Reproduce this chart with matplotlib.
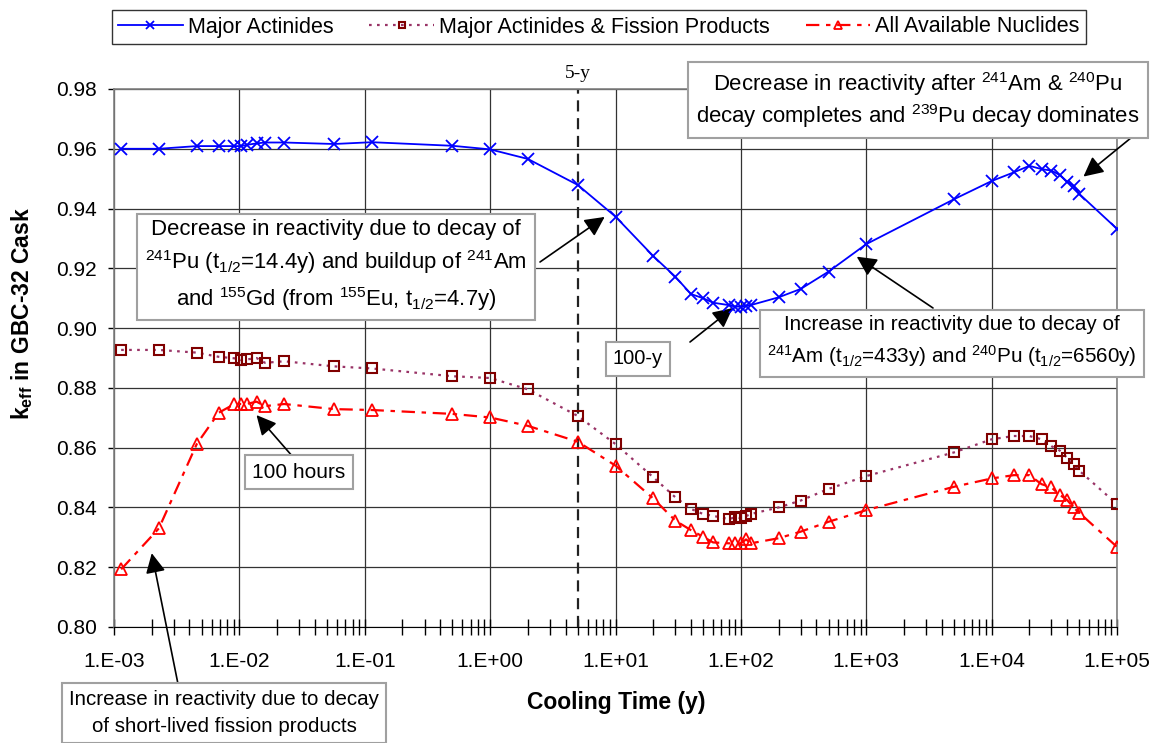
import numpy as np
import matplotlib
matplotlib.use('Agg')
import matplotlib.pyplot as plt
from matplotlib.ticker import FuncFormatter, LogLocator, NullFormatter, MultipleLocator, FixedLocator

plt.rcParams['font.family'] = ['Liberation Sans', 'DejaVu Sans']
plt.rcParams['mathtext.fontset'] = 'custom'
plt.rcParams['mathtext.rm'] = 'Liberation Sans'
plt.rcParams['mathtext.it'] = 'Liberation Sans'
plt.rcParams['mathtext.bf'] = 'Liberation Sans:bold'

# cooling times (years)
time_y = [1.14e-3, 2.28e-3, 4.57e-3, 6.85e-3, 9.13e-3, 1.03e-2, 1.14e-2, 1.37e-2, 1.6e-2, 2.28e-2,
          5.7e-2, 0.114, 0.5, 1, 2, 5, 10, 20, 30, 40, 50, 60, 80, 90, 100, 110, 120, 200, 300, 500,
          1000, 5000, 1e4, 1.5e4, 2e4, 2.5e4, 3e4, 3.5e4, 4e4, 4.5e4, 5e4, 1e5]

k_actinides = [0.9600, 0.9600, 0.9609, 0.9609, 0.9609, 0.9609, 0.9613, 0.9618, 0.9621, 0.9621,
               0.9616, 0.9622, 0.9610, 0.9598, 0.9566, 0.9479, 0.9373, 0.9241, 0.9172, 0.9114,
               0.9100, 0.9085, 0.9077, 0.9072, 0.9072, 0.9075, 0.9077, 0.9103, 0.9131, 0.9189,
               0.9281, 0.9431, 0.9492, 0.9521, 0.9543, 0.9532, 0.9527, 0.9512, 0.9490, 0.9476,
               0.9449, 0.9332]

k_act_fp = [0.8927, 0.8927, 0.8918, 0.8904, 0.8899, 0.8893, 0.8895, 0.8900, 0.8884, 0.8889,
            0.8872, 0.8865, 0.8839, 0.8833, 0.8795, 0.8706, 0.8612, 0.8501, 0.8434, 0.8395,
            0.8378, 0.8372, 0.8361, 0.8367, 0.8364, 0.8371, 0.8378, 0.8400, 0.8423, 0.8462,
            0.8505, 0.8584, 0.8628, 0.8639, 0.8639, 0.8628, 0.8605, 0.8590, 0.8566, 0.8545,
            0.8523, 0.8411]

k_all = [0.8193, 0.8330, 0.8612, 0.8717, 0.8746, 0.8746, 0.8746, 0.8754, 0.8739, 0.8746,
         0.8729, 0.8726, 0.8713, 0.8701, 0.8673, 0.8620, 0.8540, 0.8430, 0.8356, 0.8324,
         0.8302, 0.8283, 0.8280, 0.8280, 0.8280, 0.8293, 0.8280, 0.8297, 0.8319, 0.8352,
         0.8391, 0.8469, 0.8497, 0.8508, 0.8508, 0.8478, 0.8467, 0.8442, 0.8425, 0.8400,
         0.8382, 0.8268]

labels = ['Major Actinides', 'Major Actinides & Fission Products', 'All Available Nuclides']
x_ticks = [1e-3, 1e-2, 1e-1, 1e0, 1e1, 1e2, 1e3, 1e4, 1e5]

W, H = 1157, 743


def fpx(x, y):
    # pixel position (from top-left) -> figure fraction
    return (x / W, 1 - y / H)


fig = plt.figure(figsize=(W / 100, H / 100), dpi=100)
ax = fig.add_axes([114 / W, 1 - 627 / H, (1117 - 114) / W, (627 - 89) / H])

ax.plot(time_y, k_actinides, color='#0000ff', lw=1.3, marker='x', ms=8.5, mew=1.3,
        label=labels[0], zorder=4)
ax.plot(time_y, k_act_fp, color='#993366', lw=1.6, ls=(0, (1.2, 2.4)), marker='s', ms=7,
        mfc='none', mec='#800000', mew=1.5, label=labels[1], zorder=3)
ax.plot(time_y, k_all, color='#ff0000', lw=1.6, ls=(0, (6, 3, 2, 3)), marker='^', ms=9,
        mfc='none', mec='#ff0000', mew=1.3, label=labels[2], zorder=3)

ax.set_xscale('log')
ax.set_xlim(x_ticks[0], x_ticks[-1])
ax.set_ylim(0.80, 0.98)
ax.yaxis.set_major_locator(MultipleLocator(0.02))
ax.yaxis.set_major_formatter(FuncFormatter(lambda v, p: f'{v:.2f}'))
ax.xaxis.set_major_locator(FixedLocator(x_ticks))
ax.xaxis.set_minor_locator(LogLocator(base=10, subs=np.arange(2, 10), numticks=100))
ax.xaxis.set_minor_formatter(NullFormatter())
ax.xaxis.set_major_formatter(FuncFormatter(lambda v, p: f'1.E{int(round(np.log10(v))):+03d}'))

ax.grid(True, which='major', color='#333333', lw=0.9)
ax.set_axisbelow(True)
ax.tick_params(axis='x', which='both', direction='inout', length=12, width=1, labelsize=15, pad=12)
ax.tick_params(axis='y', direction='out', length=4.5, width=1, labelsize=15, pad=8)
for s in ['left', 'right', 'top']:
    ax.spines[s].set_color('#808080')
    ax.spines[s].set_linewidth(1.2)
ax.spines['bottom'].set_color('black')

# 5-year marker
ax.axvline(5, color='#222222', ls=(0, (5, 3)), lw=1.6, zorder=2)
fig.text(*fpx(578, 74), '5-y', family='Liberation Serif', fontsize=14, ha='center', va='center')

fig.text(*fpx(616, 703), 'Cooling Time (y)', fontsize=16.5, fontweight='bold', ha='center', va='center')
fig.text(*fpx(22, 313), r'$\mathbf{k}_{\mathbf{eff}}$ in GBC-32 Cask', fontsize=16.5, fontweight='bold',
         rotation=90, ha='center', va='center')

leg = fig.legend(loc='center', bbox_to_anchor=fpx(599, 27), ncol=3, fontsize=15.5, frameon=True,
                 fancybox=False, edgecolor='black', handlelength=3, handletextpad=0.25,
                 columnspacing=1.65, numpoints=1, borderpad=0.3, markerscale=0.7)
leg.get_frame().set_linewidth(1.0)

# (center px, text, fontsize, linespacing)
notes = [
    ((336, 266), 'Decrease in reactivity due to decay of\n'
                 r'$^{241}$Pu (t$_{1/2}$=14.4y) and buildup of $^{241}$Am' '\n'
                 r'and $^{155}$Gd (from $^{155}$Eu, t$_{1/2}$=4.7y)', 15.9, 1.4),
    ((299, 472), '100 hours', 15, 1.2),
    ((224, 713), 'Increase in reactivity due to decay\nof short-lived fission products', 14.8, 1.5),
    ((638, 359), '100-y', 14.5, 1.2),
    ((952, 342), 'Increase in reactivity due to decay of\n'
                 r'$^{241}$Am (t$_{1/2}$=433y) and $^{240}$Pu (t$_{1/2}$=6560y)', 14.9, 1.5),
    ((918, 100), r'Decrease in reactivity after $^{241}$Am & $^{240}$Pu' '\n'
                 r'decay completes and $^{239}$Pu decay dominates', 15.9, 1.2),
]
for (x, y), txt, fs, lsp in notes:
    fig.text(*fpx(x, y), txt, fontsize=fs, ha='center', va='center', linespacing=lsp,
             bbox=dict(boxstyle='square,pad=0.35', fc='white', ec='#a0a0a0', lw=1.5), zorder=6)

# arrows: (tip in data coords, tail in pixel coords)
arrows = [
    ((8.2, 0.9372), (540, 262)),
    ((0.0137, 0.8709), (293, 457)),
    ((0.0020, 0.8247), (178, 684)),
    ((86.0, 0.9067), (690, 342)),
    ((840.0, 0.9239), (933, 308)),
    ((5.4e4, 0.9507), (1137, 133)),
]
for tip, tail in arrows:
    ax.annotate('', xy=tip, xycoords='data', xytext=fpx(*tail), textcoords='figure fraction',
                annotation_clip=False,
                arrowprops=dict(arrowstyle='-|>,head_length=0.6,head_width=0.3', mutation_scale=20,
                                color='black', lw=1.2, shrinkA=0, shrinkB=0))

fig.savefig('out.png', dpi=100)
